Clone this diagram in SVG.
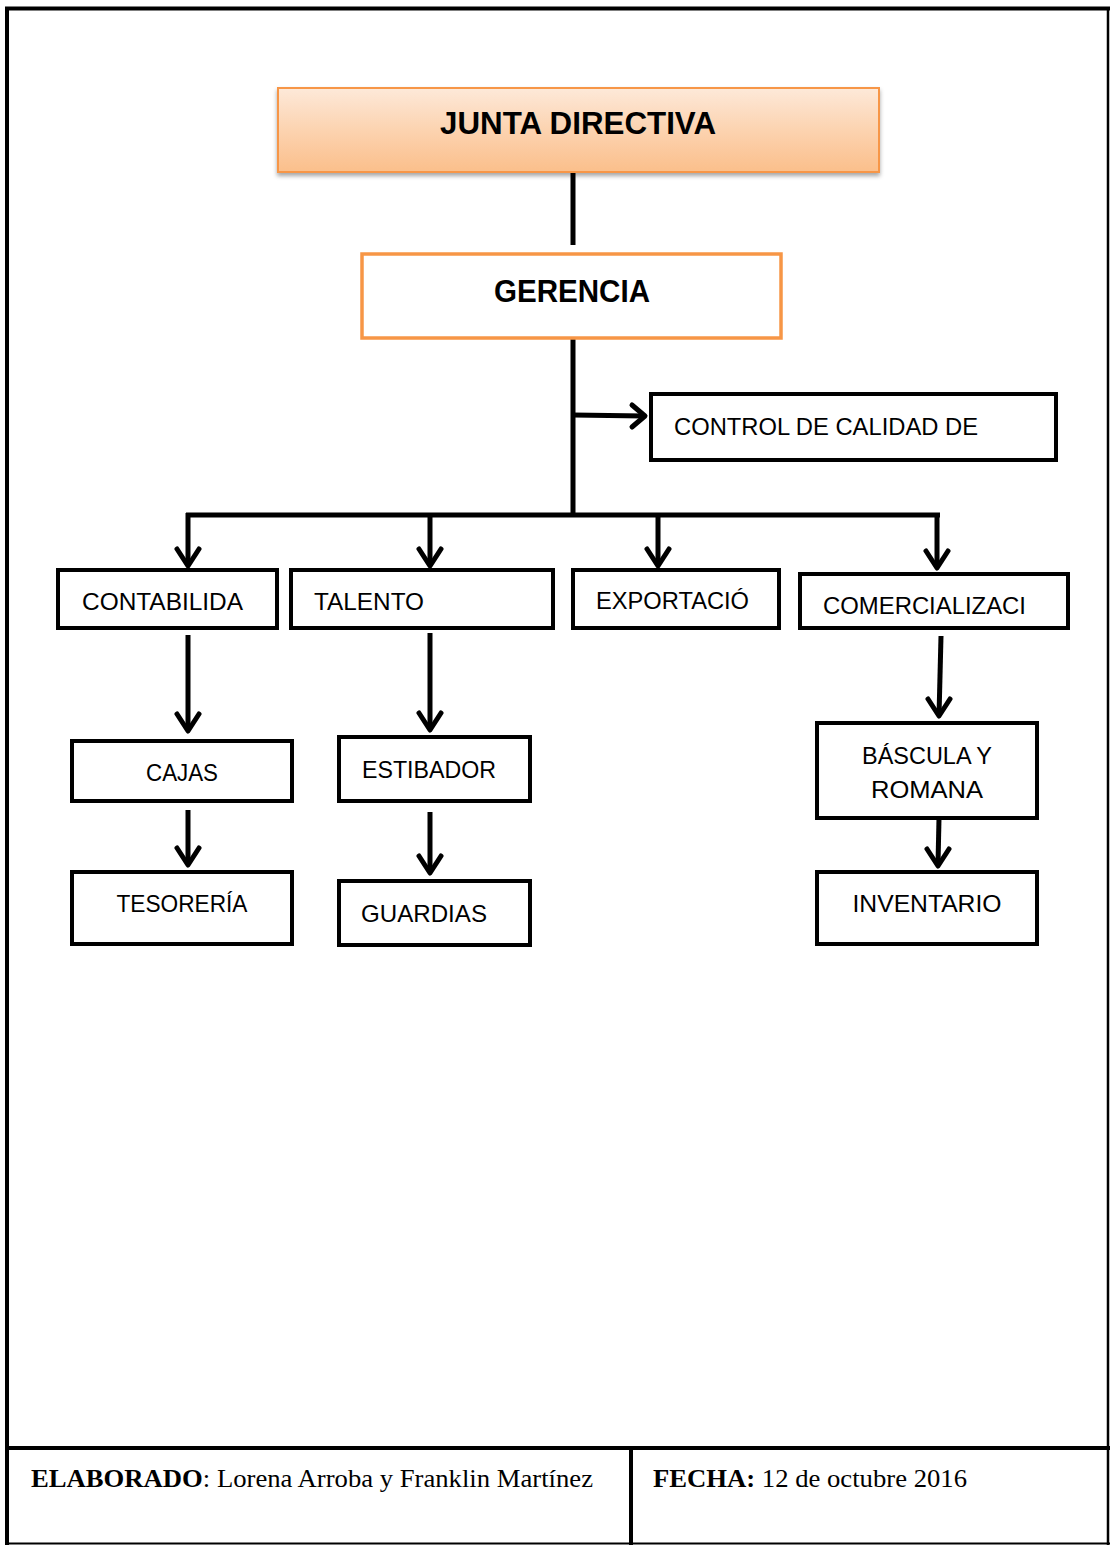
<svg xmlns="http://www.w3.org/2000/svg" width="1110" height="1545" viewBox="0 0 1110 1545">
<defs>
<linearGradient id="jg" x1="0" y1="0" x2="0" y2="1">
<stop offset="0" stop-color="#fde9d9"/>
<stop offset="0.5" stop-color="#fcd3b0"/>
<stop offset="1" stop-color="#fbbf8b"/>
</linearGradient>
<filter id="sh" x="-5%" y="-10%" width="110%" height="130%">
<feDropShadow dx="0" dy="3" stdDeviation="2" flood-color="#000" flood-opacity="0.35"/>
</filter>
</defs>
<style>
.box{fill:#fff;stroke:#000;stroke-width:4;}
.t{font-family:"Liberation Sans",Arial,sans-serif;font-size:24px;fill:#000;}
.tb{font-family:"Liberation Sans",Arial,sans-serif;font-size:31px;font-weight:bold;fill:#000;}
.ln{stroke:#000;stroke-width:5;fill:none;}
.ah{stroke:#000;stroke-width:5;fill:none;stroke-linecap:round;stroke-linejoin:round;}
.f{font-family:"Liberation Serif","Times New Roman",serif;font-size:25px;fill:#000;}
</style>
<rect width="1110" height="1545" fill="#fff"/>
<g id="frame">
<line x1="7" y1="8" x2="7" y2="1545" stroke="#000" stroke-width="4"/>
<line x1="5" y1="8.5" x2="1110" y2="8.5" stroke="#000" stroke-width="4"/>
<line x1="1108" y1="8" x2="1108" y2="1545" stroke="#000" stroke-width="2.5"/>
<line x1="5" y1="1543.5" x2="1110" y2="1543.5" stroke="#000" stroke-width="2"/>
<line x1="5" y1="1448" x2="1110" y2="1448" stroke="#000" stroke-width="4"/>
<line x1="631" y1="1448" x2="631" y2="1545" stroke="#000" stroke-width="4"/>
</g>
<g id="footer">
<text class="f" x="31" y="1487" textLength="562" lengthAdjust="spacingAndGlyphs"><tspan font-weight="bold">ELABORADO</tspan>: Lorena Arroba y Franklin Martínez</text>
<text class="f" x="653" y="1487" textLength="314" lengthAdjust="spacingAndGlyphs"><tspan font-weight="bold">FECHA:</tspan> 12 de octubre 2016</text>
</g>
<g id="connectors">
<line class="ln" x1="573" y1="172" x2="573" y2="245"/>
<line class="ln" x1="573" y1="338" x2="573" y2="517"/>
<line class="ln" x1="573" y1="415" x2="644" y2="416"/>
<polyline class="ah" points="632,405 645,416 632,427"/>
<line class="ln" x1="186" y1="515" x2="940" y2="515"/>
<line class="ln" x1="188" y1="513" x2="188" y2="566"/>
<polyline class="ah" points="177,549 188,566 199,549"/>
<line class="ln" x1="430" y1="513" x2="430" y2="566"/>
<polyline class="ah" points="419,549 430,566 441,549"/>
<line class="ln" x1="658" y1="513" x2="658" y2="566"/>
<polyline class="ah" points="647,549 658,566 669,549"/>
<line class="ln" x1="937" y1="516" x2="937" y2="568"/>
<polyline class="ah" points="926,551 937,568 948,551"/>
<line class="ln" x1="188" y1="635" x2="188" y2="731"/>
<polyline class="ah" points="177,714 188,731 199,714"/>
<line class="ln" x1="188" y1="810" x2="188" y2="865"/>
<polyline class="ah" points="177,848 188,865 199,848"/>
<line class="ln" x1="430" y1="633" x2="430" y2="730"/>
<polyline class="ah" points="419,713 430,730 441,713"/>
<line class="ln" x1="430" y1="812" x2="430" y2="873"/>
<polyline class="ah" points="419,856 430,873 441,856"/>
<line class="ln" x1="941" y1="636" x2="939" y2="716"/>
<polyline class="ah" points="928,699 939,716 950,699"/>
<line class="ln" x1="939" y1="818" x2="938" y2="865"/>
<polyline class="ah" points="927,849 938,866 949,849"/>
</g>
<g id="junta">
<rect x="278" y="88" width="601" height="84" fill="url(#jg)" stroke="#f79646" stroke-width="2" filter="url(#sh)"/>
<text class="tb" x="578" y="134" text-anchor="middle" textLength="276" lengthAdjust="spacingAndGlyphs">JUNTA DIRECTIVA</text>
</g>
<g id="gerencia">
<rect x="362" y="254" width="419" height="84" fill="#fff" stroke="#f79646" stroke-width="3.5"/>
<text class="tb" x="572" y="302" text-anchor="middle" textLength="156" lengthAdjust="spacingAndGlyphs">GERENCIA</text>
</g>
<g id="control">
<rect class="box" x="651" y="394" width="405" height="66"/>
<text class="t" x="674" y="435" textLength="304" lengthAdjust="spacingAndGlyphs">CONTROL DE CALIDAD DE</text>
</g>
<g id="contabilidad">
<rect class="box" x="58" y="570" width="219" height="58"/>
<text class="t" x="82" y="610" textLength="161" lengthAdjust="spacingAndGlyphs">CONTABILIDA</text>
</g>
<g id="talento">
<rect class="box" x="291" y="570" width="262" height="58"/>
<text class="t" x="314" y="610" textLength="110" lengthAdjust="spacingAndGlyphs">TALENTO</text>
</g>
<g id="exportacion">
<rect class="box" x="573" y="570" width="206" height="58"/>
<text class="t" x="596" y="609" textLength="153" lengthAdjust="spacingAndGlyphs">EXPORTACIÓ</text>
</g>
<g id="comercializacion">
<rect class="box" x="800" y="574" width="268" height="54"/>
<text class="t" x="823" y="614" textLength="203" lengthAdjust="spacingAndGlyphs">COMERCIALIZACI</text>
</g>
<g id="cajas">
<rect class="box" x="72" y="741" width="220" height="60"/>
<text class="t" x="182" y="781" text-anchor="middle" textLength="72" lengthAdjust="spacingAndGlyphs">CAJAS</text>
</g>
<g id="tesoreria">
<rect class="box" x="72" y="872" width="220" height="72"/>
<text class="t" x="182" y="912" text-anchor="middle" textLength="131" lengthAdjust="spacingAndGlyphs">TESORERÍA</text>
</g>
<g id="estibador">
<rect class="box" x="339" y="737" width="191" height="64"/>
<text class="t" x="362" y="778" textLength="134" lengthAdjust="spacingAndGlyphs">ESTIBADOR</text>
</g>
<g id="guardias">
<rect class="box" x="339" y="881" width="191" height="64"/>
<text class="t" x="361" y="922" textLength="126" lengthAdjust="spacingAndGlyphs">GUARDIAS</text>
</g>
<g id="bascula">
<rect class="box" x="817" y="723" width="220" height="95"/>
<text class="t" x="927" y="764" text-anchor="middle" textLength="130" lengthAdjust="spacingAndGlyphs">BÁSCULA Y</text>
<text class="t" x="927" y="798" text-anchor="middle" textLength="112" lengthAdjust="spacingAndGlyphs">ROMANA</text>
</g>
<g id="inventario">
<rect class="box" x="817" y="872" width="220" height="72"/>
<text class="t" x="927" y="912" text-anchor="middle" textLength="149" lengthAdjust="spacingAndGlyphs">INVENTARIO</text>
</g>
</svg>
